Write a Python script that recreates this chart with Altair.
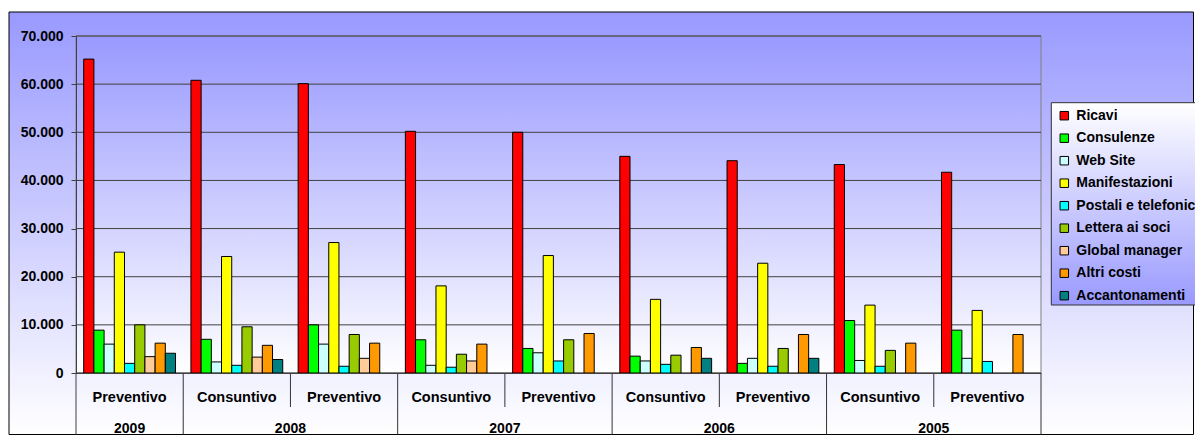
import altair as alt
import pandas as pd

# ---------------- data ----------------
years = ["2009", "2008", "2008", "2007", "2007", "2006", "2006", "2005", "2005"]
phases = ["Preventivo", "Consuntivo", "Preventivo", "Consuntivo", "Preventivo",
          "Consuntivo", "Preventivo", "Consuntivo", "Preventivo"]
series = ["Ricavi", "Consulenze", "Web Site", "Manifestazioni", "Postali e telefoniche",
          "Lettera ai soci", "Global manager", "Altri costi", "Accantonamenti"]
colors = ["#FF0000", "#00FF00", "#CCFFFF", "#FFFF00", "#00FFFF",
          "#99CC00", "#FFCC99", "#FF9900", "#008080"]

ricavi         = [65200, 60800, 60100, 50200, 50000, 45000, 44100, 43300, 41700]
consulenze     = [8900, 7000, 10000, 6900, 5100, 3500, 2000, 10900, 8900]
web_site       = [6000, 2300, 6000, 1600, 4200, 2500, 3050, 2600, 3050]
manifestazioni = [25100, 24200, 27100, 18100, 24400, 15300, 22800, 14100, 13000]
postali        = [2000, 1600, 1400, 1200, 2500, 1800, 1400, 1400, 2400]
lettera        = [10000, 9600, 8000, 3900, 6900, 3700, 5100, 4700, None]
global_manager = [3400, 3300, 3050, 2500, None, None, None, None, None]
altri_costi    = [6200, 5750, 6200, 6000, 8200, 5300, 8000, 6200, 8000]
accantonamenti = [4100, 2800, None, None, None, 3050, 3050, None, None]

y_ticks = [0, 10000, 20000, 30000, 40000, 50000, 60000, 70000]

values = [ricavi, consulenze, web_site, manifestazioni, postali,
          lettera, global_manager, altri_costi, accantonamenti]

keys = [f"{y}|{p}" for y, p in zip(years, phases)]

rows = []
for s, vals in zip(series, values):
    for k, v in zip(keys, vals):
        if v is not None:
            rows.append({"key": k, "series": s, "value": v})
bars_df = pd.DataFrame(rows)

short_sep = pd.DataFrame({"key": [keys[i] for i in range(1, len(keys)) if years[i] == years[i - 1]]})
long_sep = pd.DataFrame({"key": [keys[i] for i in range(1, len(keys)) if years[i] != years[i - 1]]})
last_sep = pd.DataFrame({"key": [keys[-1]]})

uniq_years = list(dict.fromkeys(years))
single_year = pd.DataFrame({"key": [keys[years.index(y)] for y in uniq_years if years.count(y) == 1],
                            "year": [y for y in uniq_years if years.count(y) == 1]})
double_year = pd.DataFrame({"key": [keys[years.index(y)] for y in uniq_years if years.count(y) == 2],
                            "year": [y for y in uniq_years if years.count(y) == 2]})
grid_df = pd.DataFrame({"v": y_ticks})
one = pd.DataFrame({"a": [0]})

# ---------------- layout ----------------
W, H = 965, 337
PL, PT = 68, 28
SVG_W, SVG_H = 1187, 428
PR = SVG_W - PL - W
PB = SVG_H - PT - H

FONT = "Liberation Sans"

xscale = alt.Scale(domain=keys, paddingInner=0, paddingOuter=0)
yscale = alt.Scale(domain=[0, 70000], nice=False, zero=True)

xaxis = alt.Axis(title=None, labelExpr="split(datum.value, '|')[1]", ticks=False, tickSize=0,
                 labelPadding=24, labelBaseline="middle", labelFontSize=14.5,
                 labelFontWeight="bold", labelColor="black", labelFont=FONT,
                 domainColor="#404040", grid=False, labelAngle=0, zindex=1,
                 labelLimit=300, labelOverlap=False)
yaxis = alt.Axis(title=None, values=y_ticks,
                 labelExpr="replace(format(datum.value, ','), ',', '.')",
                 grid=False, tickSize=5, tickColor="#404040", domainColor="#404040",
                 labelFontSize=14, labelFontWeight="bold", labelPadding=8,
                 labelColor="black", labelFont=FONT, zindex=1)

blue_to_white = alt.Gradient(gradient="linear",
                             stops=[alt.GradientStop(color="#9999FF", offset=0),
                                    alt.GradientStop(color="#FFFFFF", offset=1)],
                             x1=0, x2=0, y1=0, y2=1)
white_to_blue = alt.Gradient(gradient="linear",
                             stops=[alt.GradientStop(color="#FFFFFF", offset=0),
                                    alt.GradientStop(color="#9999FF", offset=1)],
                             x1=0, x2=0, y1=0, y2=1)

chart_bg = alt.Chart(one).mark_rect(fill=blue_to_white, stroke="black", strokeWidth=1).encode(
    x=alt.value(-67), x2=alt.value(SVG_W - PL - 1.5),
    y=alt.value(-24), y2=alt.value(SVG_H - PT - 1.5))

plot_bg = alt.Chart(one).mark_rect(fill=blue_to_white, stroke="#808080", strokeWidth=1).encode(
    x=alt.value(0), x2=alt.value(W), y=alt.value(0), y2=alt.value(H))

grid = alt.Chart(grid_df).mark_rule(color="#404040", strokeWidth=1).encode(
    y=alt.Y("v:Q", scale=yscale, axis=yaxis))

bars = alt.Chart(bars_df).mark_bar(stroke="black", strokeWidth=1).encode(
    x=alt.X("key:N", scale=xscale, axis=xaxis, sort=keys),
    xOffset=alt.XOffset("series:N", scale=alt.Scale(domain=series, paddingInner=0, paddingOuter=0.755),
                        sort=series),
    y=alt.Y("value:Q", scale=yscale, axis=yaxis),
    color=alt.Color("series:N", scale=alt.Scale(domain=series, range=colors), sort=series,
                    legend=alt.Legend(title=None, orient="none", legendX=975.3, legendY=66.7,
                                      symbolType="square", symbolSize=72,
                                      symbolStrokeColor="black", symbolStrokeWidth=1,
                                      labelFont=FONT, labelFontSize=14, labelFontWeight="bold",
                                      labelColor="black", labelOffset=5, labelLimit=400,
                                      rowPadding=8.5, padding=6)),
)

sep_short = alt.Chart(short_sep).mark_rule(color="#333333", strokeWidth=1).encode(
    x=alt.X("key:N", scale=xscale, axis=xaxis, bandPosition=0),
    y=alt.value(H), y2=alt.value(H + 34))
sep_long = alt.Chart(long_sep).mark_rule(color="#333333", strokeWidth=1).encode(
    x=alt.X("key:N", scale=xscale, axis=xaxis, bandPosition=0),
    y=alt.value(H), y2=alt.value(SVG_H - PT - 1.5))
sep_last = alt.Chart(last_sep).mark_rule(color="#333333", strokeWidth=1).encode(
    x=alt.X("key:N", scale=xscale, axis=xaxis, bandPosition=1),
    y=alt.value(H), y2=alt.value(SVG_H - PT - 1.5))
yext = alt.Chart(one).mark_rule(color="#404040", strokeWidth=1).encode(
    x=alt.value(0), y=alt.value(H), y2=alt.value(SVG_H - PT - 1.5))

year_single = alt.Chart(single_year).mark_text(font=FONT, fontSize=14, fontWeight="bold",
                                               baseline="middle", align="center", color="black").encode(
    x=alt.X("key:N", scale=xscale, axis=xaxis, bandPosition=0.5),
    y=alt.value(H + 56), text="year:N")
year_double = alt.Chart(double_year).mark_text(font=FONT, fontSize=14, fontWeight="bold",
                                               baseline="middle", align="center", color="black").encode(
    x=alt.X("key:N", scale=xscale, axis=xaxis, bandPosition=1),
    y=alt.value(H + 56), text="year:N")

legend_bg = alt.Chart(one).mark_rect(fill=white_to_blue, stroke="#333333", strokeWidth=1).encode(
    x=alt.value(975.3), x2=alt.value(1140), y=alt.value(66.7), y2=alt.value(269))

chart = alt.layer(chart_bg, plot_bg, grid, bars, sep_short, sep_long, sep_last, yext,
                  year_single, year_double, legend_bg).properties(
    width=W, height=H,
    padding={"left": PL, "top": PT, "right": PR, "bottom": PB},
    autosize=alt.AutoSizeParams(type="none"),
).configure(font=FONT).configure_view(stroke=None)

chart.save("out.html", embed_options={"renderer": "svg", "actions": False})
